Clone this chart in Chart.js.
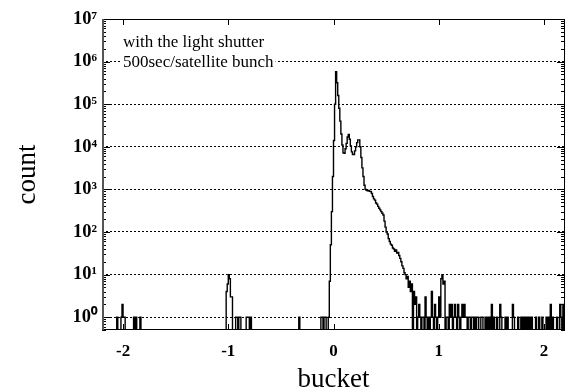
<!DOCTYPE html>
<html>
<head>
<meta charset="utf-8">
<script src="https://cdn.jsdelivr.net/npm/chart.js@4.4.1/dist/chart.umd.min.js"></script>
<style>
  html, body { margin: 0; padding: 0; background: #fff; }
</style>
</head>
<body>
<canvas id="chart" width="574" height="392"></canvas>
<script>
// histogram bins: left edge of each bucket and its count (bin width 0.01)
var binWidth = 0.01;

var leftBucket = [-2.06, -2.02, -2.01, -2.00, -1.99, -1.90, -1.88, -1.84,
                  -1.02, -1.01, -1.00, -0.99, -0.98, -0.97,
                  -0.93, -0.92, -0.90, -0.89, -0.83, -0.82, -0.81, -0.79,
                  -0.33, -0.12, -0.11, -0.09, -0.08];
var leftCount  = [1, 1, 2, 1, 1, 1, 1, 1,
                  4, 6, 10, 8, 3, 3,
                  1, 1, 1, 1, 1, 1, 1, 1,
                  1, 1, 1, 1, 1];

var peakBucket = [-0.05, -0.04, -0.03, -0.02, -0.01, 0.00, 0.01, 0.02, 0.03, 0.04,
                  0.05, 0.06, 0.07, 0.08, 0.09, 0.10, 0.11, 0.12, 0.13, 0.14,
                  0.15, 0.16, 0.17, 0.18, 0.19, 0.20, 0.21, 0.22, 0.23, 0.24,
                  0.25, 0.26, 0.27, 0.28, 0.29, 0.30, 0.31, 0.32, 0.33, 0.34,
                  0.35, 0.36, 0.37, 0.38, 0.39, 0.40, 0.41, 0.42, 0.43, 0.44,
                  0.45, 0.46, 0.47, 0.48, 0.49, 0.50, 0.51, 0.52, 0.53, 0.54,
                  0.55, 0.56, 0.57, 0.58, 0.59, 0.60, 0.61, 0.62, 0.63, 0.64,
                  0.65, 0.66, 0.67, 0.68, 0.69, 0.70, 0.71, 0.72, 0.73, 0.74,
                  0.75, 0.76, 0.77, 0.78];
var peakCount  = [1, 7, 50, 300, 2000, 14000, 100000, 580000, 320000, 160000,
                  80000, 40000, 20000, 11000, 7200, 7000, 9000, 12000, 17000, 19500,
                  15000, 10500, 7600, 6600, 6600, 8000, 10000, 12500, 14500, 14500,
                  10000, 5600, 3200, 2000, 1250, 1000, 950, 930, 950, 900,
                  890, 800, 680, 600, 560, 480, 450, 400, 360, 330,
                  300, 275, 250, 180, 130, 100, 90, 70, 60, 52,
                  49, 42, 40, 35, 38, 32, 33, 28, 24, 20,
                  16, 14, 11, 10, 8, 9, 5, 7, 4, 6,
                  0, 4, 2, 3];

var tailBucket = [0.80, 0.81, 0.82, 0.84, 0.85, 0.87, 0.88, 0.90, 0.92, 0.93,
                  0.94, 0.96, 0.97, 0.99, 1.00, 1.01, 1.02, 1.03, 1.04, 1.05,
                  1.07, 1.08, 1.10, 1.11, 1.12, 1.14, 1.15, 1.16, 1.18, 1.19,
                  1.21, 1.22, 1.23, 1.24, 1.25, 1.26, 1.28, 1.29, 1.31, 1.32,
                  1.34, 1.36, 1.37, 1.40, 1.41, 1.44, 1.46, 1.48, 1.50, 1.52,
                  1.55, 1.58, 1.59, 1.63, 1.65, 1.70, 1.71, 1.75, 1.78, 1.80,
                  1.82, 1.84, 1.86, 1.88, 1.92, 1.95, 1.98, 2.02, 2.04, 2.06,
                  2.08, 2.12, 2.15, 2.16, 2.18];
var tailCount  = [1, 2, 1, 1, 1, 3, 1, 1, 1, 4,
                  1, 2, 1, 1, 3, 1, 8, 10, 6, 7,
                  1, 1, 2, 1, 2, 1, 2, 1, 2, 1,
                  1, 2, 1, 2, 1, 1, 1, 1, 1, 1,
                  1, 1, 1, 1, 1, 1, 1, 1, 2, 1,
                  1, 2, 1, 1, 1, 2, 1, 1, 1, 1,
                  1, 1, 1, 1, 1, 1, 1, 1, 1, 2,
                  1, 1, 2, 1, 2];

var xTicks = [-2, -1, 0, 1, 2];
var xTickLabels = ['-2', '-1', '0', '1', '2'];
var yTicks = [1, 10, 100, 1000, 10000, 100000, 1000000, 10000000];
var yTickLabels = ['10\u2070', '10\u00b9', '10\u00b2', '10\u00b3', '10\u2074', '10\u2075', '10\u2076', '10\u2077'];
var noteLines = ['with the light shutter', '500sec/satellite bunch'];

// a log axis can't hold 0, so empty buckets sit below the axis floor and get clipped
var emptyLevel = 0.1;

var bucket = leftBucket.concat(peakBucket, tailBucket);
var count = leftCount.concat(peakCount, tailCount);
var points = [{ x: -2.2, y: emptyLevel }];
for (var i = 0; i < bucket.length; i++) {
    points.push({ x: bucket[i], y: count[i] > 0 ? count[i] : emptyLevel });
    var next = i + 1 < bucket.length ? bucket[i + 1] : 2.2;
    if (next - bucket[i] > binWidth * 1.5) {
        points.push({ x: bucket[i] + binWidth, y: emptyLevel });
    }
}
points.push({ x: 2.2, y: emptyLevel });

var serif = "'Liberation Serif', 'Times New Roman', serif";

var framePlugin = {
    id: 'frame',
    afterDraw: function (chart) {
        var ctx = chart.ctx, a = chart.chartArea;
        var xs = chart.scales.x, ys = chart.scales.y;
        ctx.save();
        ctx.strokeStyle = '#000';
        ctx.lineWidth = 1;
        ctx.beginPath();
        // y ticks on both sides, major at decades
        for (var e = -1; e < 7; e++) {
            for (var m = 1; m < 10; m++) {
                var v = m * Math.pow(10, e);
                if (v < ys.min || v > ys.max) continue;
                var py = Math.round(ys.getPixelForValue(v)) + 0.5;
                var len = m === 1 ? 8 : 4;
                ctx.moveTo(a.left, py); ctx.lineTo(a.left + len, py);
                ctx.moveTo(a.right, py); ctx.lineTo(a.right - len, py);
            }
        }
        xTicks.forEach(function (t) {
            var px = Math.round(xs.getPixelForValue(t)) + 0.5;
            ctx.moveTo(px, a.top); ctx.lineTo(px, a.top + 6);
            ctx.moveTo(px, a.bottom); ctx.lineTo(px, a.bottom - 6);
        });
        ctx.stroke();
        ctx.strokeRect(Math.round(a.left) + 0.5, Math.round(a.top) + 0.5,
            Math.round(a.right - a.left) - 1, Math.round(a.bottom - a.top) - 1);
        ctx.lineWidth = 2;
        ctx.strokeStyle = '#555';
        ctx.beginPath();
        ctx.moveTo(Math.round(a.left) + 1, a.top);
        ctx.lineTo(Math.round(a.left) + 1, a.bottom);
        ctx.stroke();

        // note in the upper left corner
        ctx.font = '17px ' + serif;
        ctx.textBaseline = 'alphabetic';
        ctx.textAlign = 'left';
        var tx = a.left + 21;
        noteLines.forEach(function (line, k) {
            var by = a.top + 28 + k * 20;
            var w = ctx.measureText(line).width;
            ctx.fillStyle = '#fff';
            ctx.fillRect(tx - 2, by - 13, w + 4, 17);
            ctx.fillStyle = '#000';
            ctx.fillText(line, tx, by);
        });
        ctx.restore();
    }
};

new Chart(document.getElementById('chart'), {
    type: 'line',
    data: {
        datasets: [{
            data: points,
            stepped: 'before',
            borderColor: '#000',
            borderWidth: 1.4,
            pointRadius: 0,
            fill: false,
            tension: 0
        }]
    },
    options: {
        responsive: false,
        animation: false,
        events: [],
        layout: { padding: { top: 19, right: 9, left: 0, bottom: 0 } },
        plugins: { legend: { display: false }, tooltip: { enabled: false } },
        scales: {
            x: {
                type: 'linear',
                min: -2.2,
                max: 2.2,
                afterBuildTicks: function (s) { s.ticks = xTicks.map(function (v) { return { value: v }; }); },
                afterFit: function (s) { s.height = 62; },
                grid: { display: false, drawTicks: false },
                border: { display: false },
                ticks: {
                    color: '#000',
                    padding: 11,
                    maxRotation: 0,
                    font: { family: serif, size: 17, weight: 'bold' },
                    callback: function (v, i) { return xTickLabels[i]; }
                },
                title: {
                    display: true,
                    text: 'bucket',
                    color: '#000',
                    font: { family: serif, size: 27 },
                    padding: { top: 0, bottom: -4 }
                }
            },
            y: {
                type: 'logarithmic',
                min: 0.5,
                max: 10000000,
                afterBuildTicks: function (s) { s.ticks = yTicks.map(function (v) { return { value: v }; }); },
                afterFit: function (s) { s.width = 102; },
                grid: {
                    drawTicks: false,
                    lineWidth: 1,
                    color: function (c) {
                        return c.tick && c.tick.value >= 10000000 ? 'rgba(0,0,0,0)' : '#000';
                    }
                },
                border: { display: false, dash: [2, 2] },
                ticks: {
                    color: '#000',
                    padding: 5,
                    font: { family: serif, size: 18.5, weight: 'bold' },
                    callback: function (v, i) { return yTickLabels[i]; }
                },
                title: {
                    display: true,
                    text: 'count',
                    color: '#000',
                    font: { family: serif, size: 27 },
                    padding: { top: 12, bottom: 0 }
                }
            }
        }
    },
    plugins: [framePlugin]
});
</script>
</body>
</html>
